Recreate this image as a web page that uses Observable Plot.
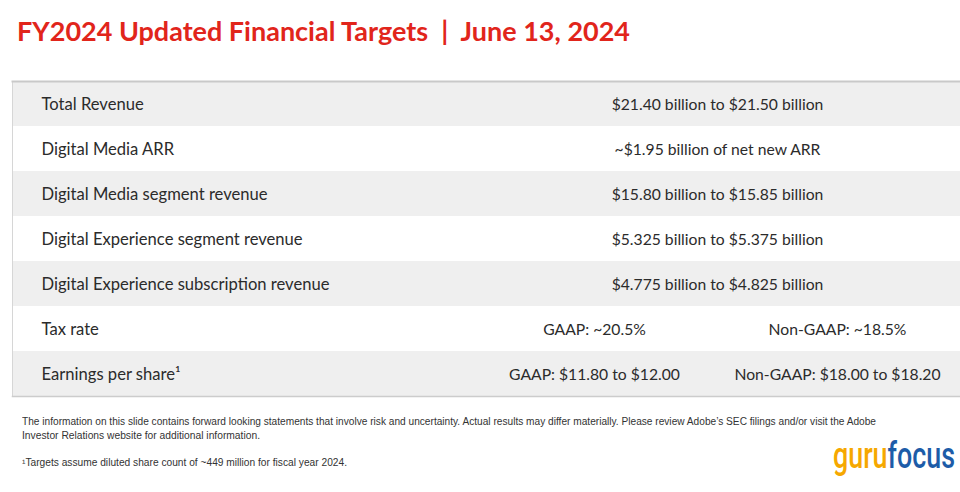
<!DOCTYPE html>
<html>
<head>
<meta charset="utf-8">
<script src="https://cdn.jsdelivr.net/npm/d3@7"></script>
<script src="https://cdn.jsdelivr.net/npm/@observablehq/plot@0.6"></script>
<style>
  html, body { margin: 0; padding: 0; background: #ffffff; }
  body { width: 960px; height: 492px; overflow: hidden; font-family: Lato, "Open Sans", sans-serif; }
  #title { position: relative; height: 70px; }
  #title span { position: absolute; left: 17px; top: 17px; font: 700 27px Lato, sans-serif; color: #e1251b; line-height: 1; white-space: pre; transform-origin: left center; }
  #chart svg { display: block; }
  #footer { position: relative; height: 81px; }
  #footer .note { position: absolute; left: 22px; font: 10px "Liberation Sans Narrow", "Liberation Sans", sans-serif; color: #333; white-space: nowrap; transform-origin: left center; line-height: 1; }
  #logo { position: absolute; left: 833px; top: 27px; font: 500 36px Roboto, sans-serif; white-space: nowrap; transform-origin: left top; line-height: 1; }
</style>
</head>
<body>
<div id="title"><span id="titleText"></span></div>
<div id="chart"></div>
<div id="footer">
  <div class="note" id="note1" style="top:6px"></div>
  <div class="note" id="note2" style="top:20px"></div>
  <div class="note" id="note3" style="top:47px"></div>
  <div id="logo"><span style="color:#f6a800">guru</span><span style="color:#1d5ca8">focus</span></div>
</div>
<script>
// ---- data ----
const titleText = "FY2024 Updated Financial Targets  |  June 13, 2024";
const rowLabels = [
  "Total Revenue",
  "Digital Media ARR",
  "Digital Media segment revenue",
  "Digital Experience segment revenue",
  "Digital Experience subscription revenue",
  "Tax rate",
  "Earnings per share\u00B9"
];
const fullValues = [
  "$21.40 billion to $21.50 billion",
  "~$1.95 billion of net new ARR",
  "$15.80 billion to $15.85 billion",
  "$5.325 billion to $5.375 billion",
  "$4.775 billion to $4.825 billion",
  null,
  null
];
const gaapValues = [null, null, null, null, null, "GAAP: ~20.5%", "GAAP: $11.80 to $12.00"];
const nonGaapValues = [null, null, null, null, null, "Non-GAAP: ~18.5%", "Non-GAAP: $18.00 to $18.20"];
const notes = [
  "The information on this slide contains forward looking statements that involve risk and uncertainty. Actual results may differ materially. Please review Adobe\u2019s SEC filings and/or visit the Adobe",
  "Investor Relations website for additional information.",
  "\u00B9Targets assume diluted share count of ~449 million for fiscal year 2024."
];

// ---- layout (column edges as fractions of table width) ----
const edgeLabel = 0.4873;
const edgeSplit = 0.7405;

const rows = rowLabels.map((label, i) => ({
  label, i,
  full: fullValues[i], gaap: gaapValues[i], nongaap: nonGaapValues[i]
}));
const grayRows = rows.filter(d => d.i % 2 === 0);
const fullRows = rows.filter(d => d.full != null);
const splitRows = rows.filter(d => d.gaap != null);

const textColor = "#2b2b2b";
const fsLabel = 16.6;
const fsValue = 15.7;

const chart = Plot.plot({
  width: 960,
  height: 341,
  marginTop: 11,
  marginBottom: 15,
  marginLeft: 12,
  marginRight: 0,
  style: { fontFamily: "Lato, 'Open Sans', sans-serif", background: "transparent" },
  x: { domain: [0, 1], axis: null },
  y: { type: "band", domain: rowLabels, padding: 0, axis: null, round: false },
  marks: [
    Plot.barX(grayRows, { x1: 0, x2: 1, y: "label", fill: "#efefef", insetTop: 0, insetBottom: 0 }),
    Plot.ruleX(rows, { x: edgeLabel, y: "label", stroke: "#e0e0e0", strokeWidth: 1.5 }),
    Plot.ruleX(splitRows, { x: edgeSplit, y: "label", stroke: "#e0e0e0", strokeWidth: 1.5 }),
    Plot.ruleX([0], { stroke: "#d6d6d6", strokeWidth: 1 }),
    Plot.frame({ anchor: "top", stroke: "#c9c9c9", strokeWidth: 2 }),
    Plot.frame({ anchor: "bottom", stroke: "#cccccc", strokeWidth: 1.5 }),
    Plot.text(rows, { x: 0, y: "label", text: "label", textAnchor: "start", dx: 29, dy: 1, fill: textColor, fontSize: fsLabel }),
    Plot.text(fullRows, { x: (edgeLabel + 1) / 2, y: "label", text: "full", dy: 1, fill: textColor, fontSize: fsValue }),
    Plot.text(splitRows, { x: (edgeLabel + edgeSplit) / 2, y: "label", text: "gaap", dy: 1, fill: textColor, fontSize: fsValue }),
    Plot.text(splitRows, { x: (edgeSplit + 1) / 2, y: "label", text: "nongaap", dy: 1, fill: textColor, fontSize: fsValue })
  ]
});
document.getElementById("chart").appendChild(chart);

// ---- title & notes ----
function fit(el, target) {
  const w = el.getBoundingClientRect().width;
  if (w > 0) el.style.transform = `scaleX(${target / w})`;
}
const t = document.getElementById("titleText");
t.textContent = titleText;
fit(t, 613);
const n1 = document.getElementById("note1"); n1.textContent = notes[0]; fit(n1, 854);
const n2 = document.getElementById("note2"); n2.textContent = notes[1]; fit(n2, 238);
const n3 = document.getElementById("note3"); n3.textContent = notes[2]; fit(n3, 325);
fit(document.getElementById("logo"), 122);
</script>
</body>
</html>
